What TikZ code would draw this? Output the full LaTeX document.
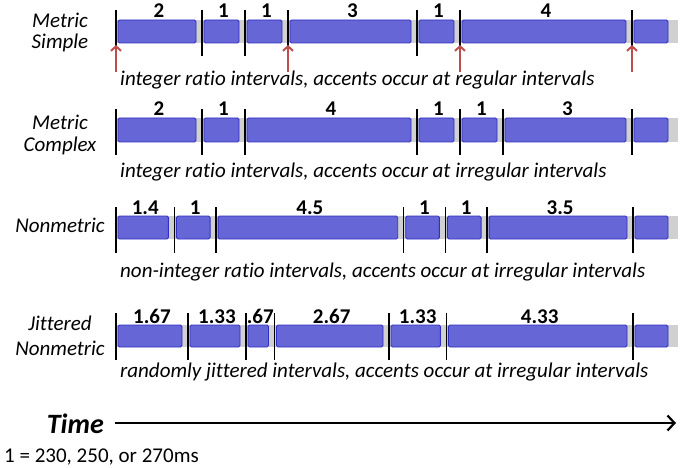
\documentclass[tikz,border=0pt]{standalone}
\usepackage{fontspec}
\setmainfont{Carlito}[Ligatures=NoCommon]
\usetikzlibrary{arrows.meta}
\definecolor{barblue}{RGB}{102,102,214}
\definecolor{bardark}{RGB}{48,48,196}
\definecolor{bargray}{RGB}{208,208,208}
\definecolor{accred}{RGB}{190,78,78}
\begin{document}
\begin{tikzpicture}[x=1pt,y=-1pt,
  blueseg/.style={fill=barblue,draw=bardark,line width=0.9pt,rounded corners=1.5pt},
  graybar/.style={fill=bargray,draw=none},
  onset/.style={line width=1.3pt,black},
  numlab/.style={font=\bfseries\fontsize{21}{21}\selectfont,anchor=base,inner sep=0pt},
  captext/.style={font=\itshape\fontsize{21}{24}\selectfont,anchor=base west,inner sep=0pt},
  rowlab/.style={font=\itshape\fontsize{21}{24}\selectfont,anchor=base,inner sep=0pt},
  accent/.style={accred,line width=2pt,-{Straight Barb[length=4.5pt,width=10pt]}}]
\useasboundingbox (0,0) rectangle (680,468);

% ---------- Row 1: Metric Simple ----------
\def\ya{20}\def\yb{43}
\fill[graybar] (116,\ya) rectangle (678,\yb);
\foreach \a/\b/\l [count=\i] in {116/202/2,202/245/1,245/288/1,288/417/3,417/460/1,460/632/4}{
  \draw[blueseg] (\a+2,\ya) rectangle (\b-6,\yb);
  \draw[onset] (\a,\ya-10) -- (\a,\yb+13);
  \node[numlab] (ra\i) at ({(\a+\b)/2},\ya-2) {\l};
}
\draw[blueseg] (634,\ya) rectangle (668,\yb);
\draw[onset] (632,\ya-10) -- (632,\yb+13);
\foreach \x [count=\i] in {116,288,460,632}{
  \coordinate (acctip\i) at (\x,45);
  \coordinate (acctail\i) at (\x,72);
  \draw[accent] (acctail\i) -- (acctip\i);
}
\node[rowlab] (la1) at (60,28) {Metric};
\node[rowlab] (la2) at (60,49) {Simple};
\node[captext] (ca) at (120,86) {integer ratio intervals, accents occur at regular intervals};

% ---------- Row 2: Metric Complex ----------
\def\ya{118}\def\yb{142}
\fill[graybar] (116,\ya) rectangle (678,\yb);
\foreach \a/\b/\l [count=\i] in {116/202/2,202/245/1,245/417/4,417/460/1,460/503/1,503/632/3}{
  \draw[blueseg] (\a+2,\ya) rectangle (\b-6,\yb);
  \draw[onset] (\a,\ya-9) -- (\a,\yb+13);
  \node[numlab] (rb\i) at ({(\a+\b)/2},\ya-2) {\l};
}
\draw[blueseg] (634,\ya) rectangle (668,\yb);
\draw[onset] (632,\ya-9) -- (632,\yb+13);
\node[rowlab] (lb1) at (60,130) {Metric};
\node[rowlab] (lb2) at (60,152) {Complex};
\node[captext] (cb) at (120,178) {integer ratio intervals, accents occur at irregular intervals};

% ---------- Row 3: Nonmetric ----------
\def\ya{216}\def\yb{239}
\fill[graybar] (116,\ya) rectangle (678,\yb);
\foreach \a/\b/\l [count=\i] in {116/174.4/1.4,174.4/216.1/1,216.1/403.7/4.5,403.7/445.4/1,445.4/487.1/1,487.1/633/3.5}{
  \draw[blueseg] (\a+2,\ya) rectangle (\b-6,\yb);
  \draw[onset] (\a,\ya-9) -- (\a,\yb+14);
  \node[numlab] (rc\i) at ({(\a+\b)/2},\ya-2) {\l};
}
\draw[blueseg] (635,\ya) rectangle (668,\yb);
\draw[onset] (633,\ya-9) -- (633,\yb+14);
\node[rowlab] (lc1) at (60,232) {Nonmetric};
\node[captext] (cc) at (120,277) {non-integer ratio intervals, accents occur at irregular intervals};

% ---------- Row 4: Jittered Nonmetric ----------
\def\ya{325}\def\yb{347}
\fill[graybar] (116,\ya) rectangle (678,\yb);
\foreach \a/\b/\l [count=\i] in {116/188/1.67,188/246/1.33,246/274.5/.67,274.5/389/2.67,389/446.4/1.33,446.4/633/4.33}{
  \draw[blueseg] (\a+2,\ya) rectangle (\b-6,\yb);
  \draw[onset] (\a,\ya-12) -- (\a,\yb+13);
  \node[numlab] (rd\i) at ({(\a+\b)/2},\ya-2) {\l};
}
\draw[blueseg] (635,\ya) rectangle (668,\yb);
\draw[onset] (633,\ya-12) -- (633,\yb+13);
\node[rowlab] (ld1) at (60,330) {Jittered};
\node[rowlab] (ld2) at (60,355) {Nonmetric};
\node[captext] (cd) at (120,377) {randomly jittered intervals, accents occur at irregular intervals};

% ---------- Time axis ----------
\node[font=\bfseries\itshape\fontsize{28}{28}\selectfont,anchor=base east,inner sep=0pt] (time) at (104,433) {Time};
\coordinate (tstart) at (115,423);
\coordinate (tend) at (676,423);
\draw[line width=2.2pt,-{Straight Barb[length=7pt,width=15pt]}] (tstart) -- (tend);
\node[font=\fontsize{21}{21}\selectfont,anchor=base west,inner sep=0pt] (unit) at (4,462) {1 = 230, 250, or 270ms};
\end{tikzpicture}
\end{document}
